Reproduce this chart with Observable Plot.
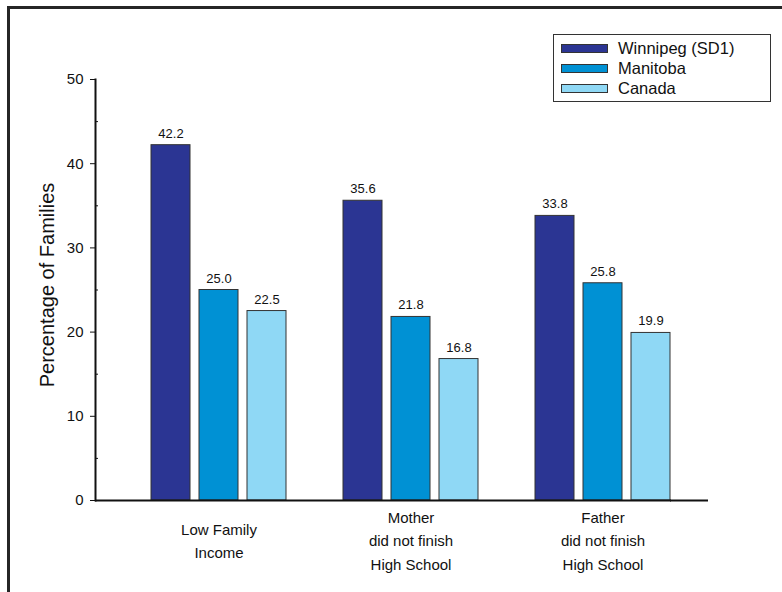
<!DOCTYPE html>
<html>
<head>
<meta charset="utf-8">
<script src="https://cdn.jsdelivr.net/npm/d3@7"></script>
<script src="https://cdn.jsdelivr.net/npm/@observablehq/plot@0.6"></script>
<style>
  html, body { margin: 0; padding: 0; background: #fff; }
  #wrap { position: relative; width: 782px; height: 592px; overflow: hidden; font-family: "Liberation Sans", Arial, sans-serif; }
  #box { position: absolute; left: 7px; top: 6px; right: -10px; bottom: -10px; border-left: 3px solid #262626; border-top: 3px solid #262626; }
  #chart { position: absolute; left: 0; top: 0; }
  #legend { position: absolute; left: 553px; top: 34px; width: 218px; height: 68px; border: 1px solid #333; background: #fff; box-sizing: border-box; padding-top: 3px; }
  .row { display: flex; align-items: center; height: 20px; }
  .sw { width: 47px; height: 9px; margin-left: 7px; margin-right: 10px; border: 1px solid #333; box-sizing: border-box; }
  .lab { font-size: 16.5px; color: #111; }
</style>
</head>
<body>
<div id="wrap">
  <div id="box"></div>
  <div id="chart"></div>
  <div id="legend"></div>
</div>
<script>
// Family risk indicators: percentage of families, by area
const categories = ["Low Family\nIncome", "Mother\ndid not finish\nHigh School", "Father\ndid not finish\nHigh School"];
const series = ["Winnipeg (SD1)", "Manitoba", "Canada"];
const colors = ["#2b3593", "#0091d4", "#8fd8f5"];
const winnipeg = [42.2, 35.6, 33.8];
const manitoba = [25.0, 21.8, 25.8];
const canada = [22.5, 16.8, 19.9];
const yTicks = [0, 10, 20, 30, 40, 50];
const yMinorTicks = [5, 15, 25, 35, 45];
const yTitle = "Percentage of Families";

const seriesValues = [winnipeg, manitoba, canada];
const data = [];
categories.forEach((c, i) => {
  series.forEach((s, j) => data.push({category: c, series: s, value: seriesValues[j][i]}));
});

const chart = Plot.plot({
  width: 782,
  height: 592,
  marginLeft: 95,
  marginRight: 111,
  marginTop: 79,
  marginBottom: 92,
  style: {fontFamily: "'Liberation Sans', Arial, sans-serif", background: "transparent", color: "#111"},
  fx: {domain: categories, paddingInner: 0, paddingOuter: 0, label: null},
  // bars sit toward the right of each facet band, leaving room after the y axis
  x: {domain: series, paddingInner: 0.1875, paddingOuter: 0.59375, align: 0.9825, axis: null},
  y: {domain: [0, 50], axis: null},
  color: {domain: series, range: colors},
  marks: [
    Plot.barY(data, {fx: "category", x: "series", y: "value", fill: "series", stroke: "#333", strokeWidth: 1}),
    Plot.text(data, {fx: "category", x: "series", y: "value", text: d => d.value.toFixed(1),
      lineAnchor: "bottom", dy: -7.5, fontSize: 13, fill: "#111", style: "letter-spacing:0.7px"}),
    // baseline, plus a short run past the last group
    Plot.ruleY([0], {stroke: "#111", strokeWidth: 2}),
    Plot.ruleY([0], {facetAnchor: "right", stroke: "#111", strokeWidth: 2, insetLeft: 191, insetRight: -37}),
    Plot.frame({anchor: "left", facetAnchor: "left", stroke: "#111", strokeWidth: 2}),
    Plot.axisY(yTicks, {tickSize: 5, tickPadding: 7, fontSize: 15, label: null, stroke: "#111"}),
    Plot.axisY(yMinorTicks, {tickSize: -3, text: null, label: null, stroke: "#111"}),
    Plot.text([yTitle], {facetAnchor: "left", frameAnchor: "left", textAnchor: "middle", rotate: -90, dx: -48, dy: -5, fontSize: 20, fill: "#111"}),
    Plot.axisFx({anchor: "bottom", tickSize: 0, tickPadding: 38.5, dx: 27.5, lineAnchor: "middle", lineHeight: 1.55, fontSize: 15, label: null})
  ]
});
document.getElementById("chart").appendChild(chart);

// Legend built from the series names and colours
const legend = d3.select("#legend");
series.forEach((s, i) => {
  const row = legend.append("div").attr("class", "row");
  row.append("div").attr("class", "sw").style("background", colors[i]);
  row.append("div").attr("class", "lab").text(s);
});
</script>
</body>
</html>
